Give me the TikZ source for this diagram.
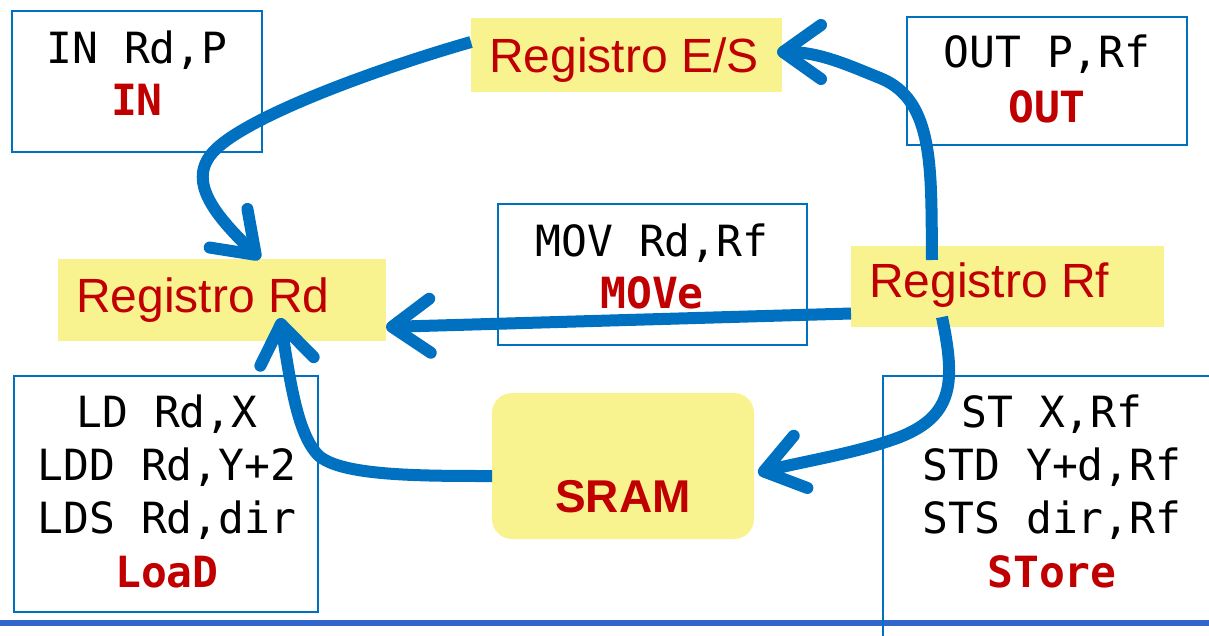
\documentclass[tikz,border=0pt]{standalone}
\usepackage{fontspec}
\setmainfont{Liberation Sans}
\setmonofont{DejaVu Sans Mono}
\usetikzlibrary{arrows.meta}
\definecolor{boxblue}{HTML}{0070C0}
\definecolor{arrowblue}{HTML}{0070C0}
\definecolor{regyellow}{HTML}{F9F38F}
\definecolor{opred}{HTML}{C00000}
\definecolor{ruleblue}{HTML}{3366CC}

\begin{document}
\begin{tikzpicture}[x=1pt,y=-1pt,
  instbox/.style={draw=boxblue, line width=1.8pt, rectangle, inner sep=0pt, outer sep=0pt, anchor=north west},
  regbox/.style={fill=regyellow, rectangle, inner sep=0pt, outer sep=0pt, anchor=north west},
  code/.style={font=\fontsize{43}{53}\selectfont\ttfamily, text=black, anchor=base, inner sep=0pt},
  opname/.style={font=\fontsize{43}{53}\selectfont\ttfamily\bfseries, text=opred, anchor=base, inner sep=0pt},
  regname/.style={font=\fontsize{48}{57}\selectfont, text=opred, anchor=base west, inner sep=0pt},
  flow/.style={draw=arrowblue, line width=12pt, -{Straight Barb[length=38pt,width=54pt,round]}},
]
\useasboundingbox (0,0) rectangle (1209,635);

% instruction boxes
\node[instbox, minimum width=250pt, minimum height=141pt] (inbox) at (12,11) {};
\node[instbox, minimum width=280pt, minimum height=128pt] (outbox) at (907,17) {};
\node[instbox, minimum width=309pt, minimum height=141pt] (movbox) at (498,204) {};
\node[instbox, minimum width=304pt, minimum height=236pt] (ldbox) at (14,376) {};

% bottom rule
\coordinate (ruleL) at (0,623);
\coordinate (ruleR) at (1209,623);
\draw[ruleblue, line width=6pt] (ruleL) -- (ruleR);

\node[instbox, minimum width=340pt, minimum height=290pt] (stbox) at (883,376) {};

% registers and memory
\node[regbox, minimum width=311pt, minimum height=74pt] (es) at (471,18) {};
\node[regbox, minimum width=328pt, minimum height=82pt] (rd) at (58,259) {};
\node[regbox, minimum width=313pt, minimum height=81pt] (rf) at (851,246) {};
\node[regbox, rounded corners=20pt, minimum width=262pt, minimum height=146pt] (sram) at (492,393) {};

\node[regname] (estext) at (489,72) {Registro E/S};
\node[regname] (rdtext) at (76,312) {Registro Rd};
\node[regname] (rftext) at (869,297) {Registro Rf};
\node[font=\fontsize{46}{55}\selectfont\bfseries, text=opred, anchor=base, inner sep=0pt] (sramtext) at (623,512) {SRAM};

% instruction texts
\node[code] (in1) at (137,63) {IN Rd,P};
\node[opname] (in2) at (137,115) {IN};

\node[code] (out1) at (1047,67) {OUT P,Rf};
\node[opname] (out2) at (1047,122) {OUT};

\node[code] (mov1) at (652,256) {MOV Rd,Rf};
\node[opname] (mov2) at (652,308) {MOVe};

\node[code] (ld1) at (167,427) {LD Rd,X};
\node[code] (ld2) at (167,480) {LDD Rd,Y+2};
\node[code] (ld3) at (167,533) {LDS Rd,dir};
\node[opname] (ld4) at (167,587) {LoaD};

\node[code] (st1) at (1052,427) {ST X,Rf};
\node[code] (st2) at (1052,480) {STD Y+d,Rf};
\node[code] (st3) at (1052,533) {STS dir,Rf};
\node[opname] (st4) at (1052,587) {STore};

% data paths
\draw[flow] ([yshift=13pt]es.west) .. controls (380,68) and (250,115) .. (215,150)
  .. controls (185,180) and (215,215) .. ([xshift=38pt]rd.north);
\draw[flow] ([xshift=-75.5pt,yshift=-14pt]rf.north) .. controls (931,170) and (935,100) .. (880,78)
  .. controls (850,66) and (820,52) .. ([xshift=-5pt,yshift=3pt]es.east);
\draw[flow] ([yshift=-27pt]rf.west) -- ([yshift=-27pt]rd.east);
\draw[flow] ([xshift=-65.5pt,yshift=10pt]rf.south) .. controls (955,380) and (955,415) .. (900,437)
  .. controls (858,453) and (800,462) .. ([xshift=4pt,yshift=-7pt]sram.east);
\draw[flow] ([yshift=-10pt]sram.west) .. controls (420,476) and (340,476) .. (318,455)
  .. controls (297,433) and (290,380) .. ([xshift=58pt,yshift=23pt]rd.south);
\end{tikzpicture}
\end{document}
